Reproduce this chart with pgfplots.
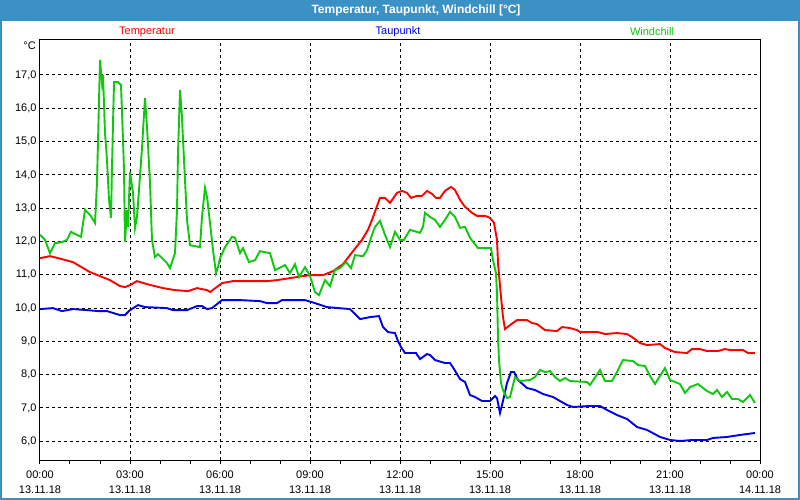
\documentclass[border=0pt]{standalone}
\usepackage{fontspec}
\setmainfont{Liberation Sans}
\usepackage{pgfplots}
\usepackage{pgfplotstable}
\pgfplotsset{compat=1.18}
\definecolor{barblue}{RGB}{60,145,196}
\definecolor{tred}{RGB}{255,0,0}
\definecolor{tblue}{RGB}{0,0,235}
\definecolor{tgreen}{RGB}{16,200,16}

\pgfplotstableread{
h v
0.000 11.50
0.333 11.56
0.733 11.47
1.100 11.38
1.667 11.08
2.000 10.96
2.333 10.84
2.667 10.66
2.833 10.63
3.000 10.69
3.233 10.81
3.567 10.72
4.100 10.60
4.500 10.54
4.933 10.51
5.233 10.60
5.567 10.54
5.667 10.48
6.067 10.75
6.433 10.81
7.000 10.81
7.567 10.81
7.900 10.84
8.333 10.90
8.767 10.96
9.000 10.99
9.433 10.99
9.767 11.11
10.100 11.32
10.433 11.71
10.733 12.05
10.933 12.35
11.067 12.65
11.333 13.31
11.500 13.31
11.667 13.16
11.900 13.46
12.067 13.52
12.233 13.46
12.367 13.31
12.567 13.37
12.733 13.37
12.900 13.52
13.067 13.43
13.200 13.31
13.333 13.31
13.500 13.52
13.700 13.64
13.833 13.55
14.000 13.25
14.167 13.04
14.400 12.86
14.567 12.77
14.833 12.77
15.000 12.71
15.133 12.56
15.233 12.05
15.267 11.35
15.367 10.33
15.433 9.73
15.500 9.37
15.667 9.49
15.900 9.64
16.233 9.64
16.400 9.55
16.567 9.52
16.833 9.34
17.233 9.31
17.400 9.43
17.667 9.40
17.900 9.34
18.000 9.28
18.600 9.28
18.833 9.22
19.233 9.25
19.567 9.22
19.733 9.13
20.000 8.95
20.233 8.89
20.667 8.92
20.833 8.80
21.167 8.68
21.567 8.65
21.733 8.77
22.000 8.77
22.233 8.71
22.600 8.71
22.833 8.77
23.000 8.74
23.433 8.74
23.600 8.65
23.833 8.65
}\temp

\pgfplotstableread{
h v
0.000 9.97
0.433 10.00
0.733 9.91
1.100 9.97
1.567 9.94
1.933 9.91
2.233 9.91
2.667 9.79
2.833 9.79
3.000 9.94
3.267 10.09
3.500 10.03
4.233 10.00
4.433 9.94
4.900 9.94
5.233 10.06
5.400 10.06
5.567 9.97
5.733 10.00
6.067 10.24
6.667 10.24
7.333 10.21
7.567 10.15
7.900 10.15
8.067 10.24
8.833 10.24
9.167 10.15
9.567 10.03
10.333 9.97
10.667 9.67
11.000 9.73
11.300 9.76
11.433 9.43
11.600 9.28
11.833 9.25
11.933 9.01
12.033 8.83
12.167 8.65
12.533 8.65
12.667 8.47
12.900 8.62
13.000 8.59
13.167 8.44
13.500 8.35
13.667 8.35
13.800 8.17
14.000 7.87
14.167 7.78
14.333 7.39
14.500 7.33
14.733 7.21
15.000 7.21
15.167 7.36
15.233 7.30
15.333 6.85
15.433 7.21
15.567 7.75
15.700 8.08
15.800 8.08
15.933 7.84
16.233 7.60
16.500 7.54
16.767 7.42
17.100 7.33
17.567 7.09
17.767 7.03
18.333 7.06
18.667 7.06
18.900 6.94
19.233 6.79
19.567 6.67
19.900 6.43
20.233 6.34
20.667 6.13
21.000 6.04
21.333 6.01
21.767 6.04
22.233 6.04
22.433 6.10
22.900 6.13
23.333 6.19
23.833 6.25
}\dew

\pgfplotstableread{
h v
0.000 12.20
0.167 12.05
0.333 11.65
0.500 11.95
0.733 11.98
0.900 12.05
1.033 12.29
1.233 12.20
1.367 12.14
1.500 12.95
1.667 12.80
1.833 12.56
1.900 13.76
2.000 17.45
2.067 16.76
2.100 17.00
2.167 15.26
2.233 14.45
2.300 13.25
2.367 12.71
2.400 14.24
2.467 16.79
2.600 16.79
2.700 16.70
2.767 15.05
2.800 14.15
2.833 11.98
2.900 12.95
2.933 12.44
3.000 14.09
3.100 13.46
3.167 12.41
3.233 12.74
3.300 13.55
3.400 14.81
3.500 16.31
3.567 15.44
3.667 13.76
3.733 12.05
3.833 11.53
3.933 11.62
4.233 11.35
4.333 11.20
4.500 11.65
4.567 12.95
4.600 14.66
4.667 16.55
4.733 15.74
4.767 15.05
4.900 12.65
5.000 11.89
5.333 11.83
5.400 12.74
5.500 13.61
5.567 13.34
5.667 12.56
5.767 11.74
5.867 11.05
5.933 11.23
6.000 11.50
6.167 11.83
6.400 12.14
6.500 12.11
6.667 11.65
6.767 11.80
6.967 11.38
7.167 11.44
7.333 11.71
7.667 11.65
7.833 11.14
8.167 11.29
8.333 11.05
8.500 11.32
8.633 10.93
8.833 11.23
9.000 10.96
9.167 10.48
9.300 10.39
9.500 10.84
9.667 10.66
9.833 11.14
10.000 11.20
10.200 11.38
10.367 11.20
10.500 11.59
10.767 11.56
10.900 11.74
11.067 12.20
11.167 12.44
11.333 12.62
11.500 12.20
11.667 11.83
11.833 12.29
12.000 12.05
12.133 12.05
12.333 12.35
12.667 12.26
12.767 12.44
12.833 12.86
13.000 12.74
13.167 12.65
13.333 12.44
13.500 12.65
13.667 12.89
13.833 12.74
14.000 12.41
14.167 12.44
14.333 12.11
14.600 11.80
14.900 11.80
15.033 11.80
15.100 11.44
15.200 11.05
15.233 10.45
15.267 9.13
15.300 8.44
15.367 7.75
15.433 7.54
15.567 7.30
15.667 7.33
15.833 7.93
16.000 7.81
16.333 7.84
16.500 7.93
16.667 8.14
16.833 8.08
17.000 8.11
17.167 7.93
17.333 7.81
17.500 7.90
17.667 7.81
18.233 7.78
18.333 7.69
18.667 8.14
18.833 7.81
19.067 7.81
19.233 8.08
19.433 8.44
19.767 8.41
19.933 8.29
20.167 8.26
20.333 7.96
20.500 7.72
20.833 8.20
21.000 7.84
21.333 7.72
21.500 7.45
21.667 7.63
21.933 7.72
22.233 7.51
22.433 7.42
22.567 7.54
22.733 7.33
22.900 7.48
23.067 7.27
23.267 7.27
23.433 7.18
23.667 7.39
23.833 7.15
}\wind

\begin{document}
\begin{tikzpicture}
\useasboundingbox (0pt,0pt) rectangle (800pt,-500pt);
\fill[white] (0pt,0pt) rectangle (800pt,-500pt);
\fill[barblue] (0pt,0pt) rectangle (800pt,-21pt);
\draw[barblue, line width=2pt] (1pt,-21pt) -- (1pt,-499pt) -- (799pt,-499pt) -- (799pt,-21pt);
\node[white, font=\fontsize{12}{14}\selectfont\bfseries, inner sep=0pt] at (416pt,-10.5pt) {Temperatur, Taupunkt, Windchill [°C]};
\node[tred, font=\fontsize{11}{13}\selectfont, inner sep=0pt] at (147pt,-32pt) {Temperatur};
\node[tblue, font=\fontsize{11}{13}\selectfont, inner sep=0pt] at (398pt,-32pt) {Taupunkt};
\node[tgreen, font=\fontsize{11}{13}\selectfont, inner sep=0pt] at (652pt,-32pt) {Windchill};
\node[black, font=\fontsize{11}{13}\selectfont, inner sep=0pt, anchor=east] at (36pt,-46pt) {°C};
\begin{axis}[
  at={(40pt,-460pt)}, anchor=south west,
  width=720pt, height=420pt, scale only axis,
  xmin=0, xmax=24, ymin=5.438, ymax=18.051,
  axis line style={black, line width=1pt},
  xtick={0,3,...,24},
  xticklabels={{00:00\\13.11.18},{03:00\\13.11.18},{06:00\\13.11.18},{09:00\\13.11.18},{12:00\\13.11.18},{15:00\\13.11.18},{18:00\\13.11.18},{21:00\\13.11.18},{00:00\\14.11.18}},
  minor x tick num=2,
  ytick={6,7,...,17},
  tick pos=left, tick align=outside,
  major tick length=4pt, minor tick length=4pt,
  xtick style={black, line width=1pt},
  ytick style={draw=none},
  xmajorgrids, ymajorgrids,
  major grid style={black, line width=1pt, dash pattern=on 3pt off 3pt},
  tick label style={font=\fontsize{11}{15}\selectfont},
  xticklabel style={align=center, yshift=-3pt},
  yticklabel style={xshift=4pt, /pgf/number format/.cd, fixed, fixed zerofill, precision=1, use comma, assume math mode=true},
]
\addplot[tred, line width=1.9pt] table[x=h, y=v] {\temp};
\addplot[tblue, line width=1.9pt] table[x=h, y=v] {\dew};
\addplot[tgreen, line width=1.9pt] table[x=h, y=v] {\wind};
\end{axis}
\end{tikzpicture}
\end{document}
